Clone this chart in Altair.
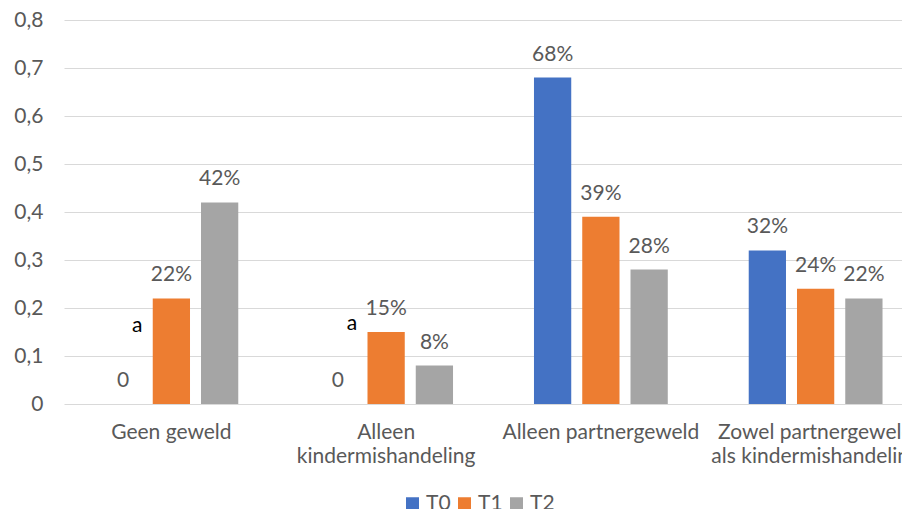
import altair as alt
import pandas as pd

categories = ["Geen geweld", "Alleen kindermishandeling", "Alleen partnergeweld",
              "Zowel partnergeweld als kindermishandeling"]
category_lines = [["Geen geweld"], ["Alleen", "kindermishandeling"], ["Alleen partnergeweld"],
                  ["Zowel partnergeweld", "als kindermishandeling"]]
series = ["T0", "T1", "T2"]
colors = ["#4472C4", "#ED7D31", "#A5A5A5"]
t0_values = [0.0, 0.0, 0.68, 0.32]
t1_values = [0.22, 0.15, 0.39, 0.24]
t2_values = [0.42, 0.08, 0.28, 0.22]
y_ticks = [0, 0.1, 0.2, 0.3, 0.4, 0.5, 0.6, 0.7, 0.8]

# small "a" annotations
note_categories = ["Geen geweld", "Alleen kindermishandeling"]
note_series = ["T0", "T0"]
note_y = [0.15, 0.155]
note_text = ["a", "a"]

rows = []
for s, vals in zip(series, [t0_values, t1_values, t2_values]):
    for c, v in zip(categories, vals):
        lab = "0" if v == 0 else f"{round(v * 100)}%"
        rows.append({"cat": c, "series": s, "value": v, "label": lab})
df = pd.DataFrame(rows)
notes = pd.DataFrame({"cat": note_categories, "series": note_series, "y": note_y, "text": note_text})

FONT = "Lato"
GREY = "#595959"

label_map = "{" + ", ".join(
    "'" + c + "': [" + ", ".join("'" + l + "'" for l in lines) + "]"
    for c, lines in zip(categories, category_lines)) + "}"

x_scale = alt.Scale(domain=categories, range=[0, 859], paddingInner=0.377, paddingOuter=0.1885)
xo_scale = alt.Scale(domain=series, paddingInner=0.228, paddingOuter=0)
y_scale = alt.Scale(domain=[0, 0.8], nice=False)

x_enc = alt.X("cat:N", scale=x_scale, title=None,
              axis=alt.Axis(labelExpr=label_map + "[datum.value]", labelAngle=0, domain=False,
                            ticks=False, labelPadding=17, labelFont=FONT, labelFontSize=21,
                            labelColor=GREY, labelLineHeight=24, labelOverlap=False,
                            labelLimit=500))
xo_enc = alt.XOffset("series:N", scale=xo_scale)
y_enc = alt.Y("value:Q", scale=y_scale, title=None,
              axis=alt.Axis(values=y_ticks, domain=False, ticks=False, labelPadding=21,
                            labelFont=FONT, labelFontSize=21, labelColor=GREY,
                            gridColor="#D9D9D9", gridWidth=1,
                            labelExpr="datum.value == 0 ? '0' : replace(format(datum.value, '.1f'), '.', ',')"))

bars = alt.Chart(df).mark_bar().encode(
    x=x_enc, xOffset=xo_enc, y=y_enc,
    color=alt.Color("series:N", scale=alt.Scale(domain=series, range=colors),
                    legend=alt.Legend(title=None, orient="none", direction="horizontal",
                                      legendX=338, legendY=473, symbolType="square",
                                      symbolSize=169, symbolStrokeWidth=0,
                                      labelFont=FONT, labelFontSize=21, labelColor=GREY,
                                      labelOffset=3, columnPadding=3, padding=0))
)

labels = alt.Chart(df).mark_text(baseline="alphabetic", dy=-17, font=FONT, fontSize=21,
                                 color=GREY).encode(
    x=alt.X("cat:N", scale=x_scale), xOffset=alt.XOffset("series:N", scale=xo_scale),
    y=alt.Y("value:Q", scale=y_scale), text="label:N")

note_marks = alt.Chart(notes).mark_text(baseline="alphabetic", dx=14, font=FONT, fontSize=21,
                                        color="#000000").encode(
    x=alt.X("cat:N", scale=x_scale), xOffset=alt.XOffset("series:N", scale=xo_scale),
    y=alt.Y("y:Q", scale=y_scale), text="text:N")

chart = alt.layer(bars, labels, note_marks).properties(
    width=838, height=384,
    padding={"left": 56, "top": 12, "right": 0, "bottom": 105},
    autosize=alt.AutoSizeParams(type="none"),
    background="white",
).configure_view(stroke=None)

chart.save("out.html", embed_options={"renderer": "svg", "actions": False})
